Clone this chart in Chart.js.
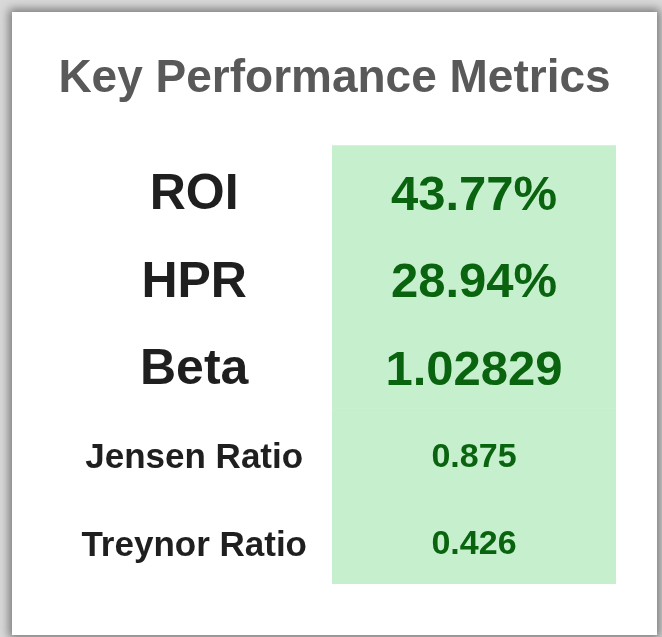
<!DOCTYPE html>
<html>
<head>
<meta charset="utf-8">
<script src="https://cdn.jsdelivr.net/npm/chart.js@4"></script>
<style>
  html, body { margin: 0; padding: 0; width: 662px; height: 637px; overflow: hidden; background: #d9d9d9; }
  .card {
    position: absolute; left: 12px; top: 12px; width: 645px; height: 623px;
    background: #ffffff;
    box-shadow: 0 0 9px 3px rgba(0, 0, 0, 0.45);
  }
  canvas { display: block; }
</style>
</head>
<body>
<div class="card">
  <canvas id="kpiChart" width="645" height="623"></canvas>
</div>
<script>
// metric names, values and suffixes
var metricNames = ['ROI', 'HPR', 'Beta', 'Jensen Ratio', 'Treynor Ratio'];
var metricValues = [43.77, 28.94, 1.02829, 0.875, 0.426];
var metricUnits = ['%', '%', '', '', ''];
// first three rows are the headline metrics (larger type)
var headlineRows = [true, true, true, false, false];

var FONT = "'Liberation Sans', Arial, sans-serif";

// draws the value text in the middle of each green cell
var valueLabels = {
    id: 'valueLabels',
    afterDatasetsDraw: function (chart) {
        var ctx = chart.ctx;
        var meta = chart.getDatasetMeta(0);
        ctx.save();
        ctx.textAlign = 'center';
        ctx.textBaseline = 'middle';
        ctx.fillStyle = '#0a640f';
        meta.data.forEach(function (bar, i) {
            var size = headlineRows[i] ? 49 : 34;
            ctx.font = 'bold ' + size + 'px ' + FONT;
            var cx = (bar.x + bar.base) / 2;
            ctx.fillText(metricValues[i] + metricUnits[i], cx, bar.y + (headlineRows[i] ? 7 : 5));
        });
        ctx.restore();
    }
};

new Chart(document.getElementById('kpiChart'), {
    type: 'bar',
    data: {
        labels: metricNames,
        datasets: [{
            // each cell spans the whole value column
            data: metricNames.map(function () { return [0, 1]; }),
            backgroundColor: '#c6efce',
            borderWidth: 0,
            barPercentage: 1,
            categoryPercentage: 1
        }]
    },
    options: {
        indexAxis: 'y',
        responsive: false,
        animation: false,
        layout: { padding: { left: 41, right: 41, top: 0, bottom: 51 } },
        plugins: {
            legend: { display: false },
            tooltip: { enabled: false },
            title: {
                display: true,
                text: 'Key Performance Metrics',
                color: '#595959',
                font: { family: FONT, size: 46, weight: 'bold' },
                padding: { top: 40, bottom: 38 }
            }
        },
        scales: {
            x: { display: false, min: 0, max: 1 },
            y: {
                grid: { display: false, drawTicks: false },
                border: { display: false },
                afterFit: function (scale) {
                    // fixed label column; labels sit inside their rows, no extra vertical padding
                    scale.width = 279;
                    scale.paddingTop = 0;
                    scale.paddingBottom = 0;
                },
                ticks: {
                    autoSkip: false,
                    crossAlign: 'center',
                    padding: 25,
                    labelOffset: 6,
                    color: '#1f1f1f',
                    font: function (c) {
                        return { family: FONT, weight: 'bold', size: headlineRows[c.index] ? 50 : 35 };
                    }
                }
            }
        }
    },
    plugins: [valueLabels]
});
</script>
</body>
</html>
